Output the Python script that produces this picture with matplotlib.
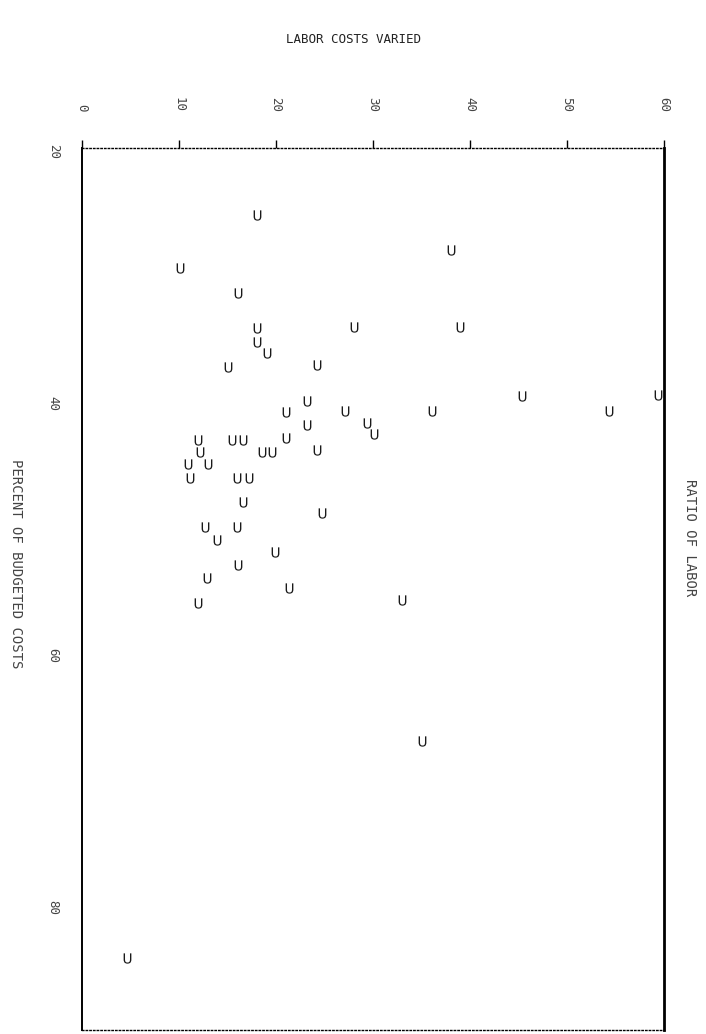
import matplotlib.pyplot as plt

ratio = [18.1, 38.1, 10.1, 16.1, 18.1, 28.1, 39.0, 18.1, 19.1, 15.1,
         24.2, 23.2, 21.1, 27.1, 36.1, 23.2, 29.4, 30.1, 12.0, 15.5,
         16.6, 21.1, 18.6, 19.6, 24.2, 12.2, 10.9, 13.0, 11.1, 16.0,
         17.2, 16.6, 24.8, 12.7, 16.0, 13.9, 19.9, 16.1, 12.9, 21.4,
         12.0, 33.0, 45.4, 54.4, 59.4, 35.1, 4.7]
percent = [25.0, 27.8, 29.2, 31.2, 34.0, 33.9, 33.9, 35.1, 36.0, 37.1,
           36.9, 39.8, 40.7, 40.6, 40.6, 41.7, 41.5, 42.4, 42.9, 42.9,
           42.9, 42.7, 43.8, 43.8, 43.7, 43.8, 44.8, 44.8, 45.9, 45.9,
           45.9, 47.8, 48.7, 49.8, 49.8, 50.8, 51.8, 52.8, 53.8, 54.6,
           55.8, 55.6, 39.4, 40.6, 39.3, 66.8, 84.0]

ratio_ticks = [0, 10, 20, 30, 40, 50, 60]
percent_ticks = [20, 40, 60, 80]

plt.rcParams['font.family'] = 'DejaVu Sans Mono'

fig = plt.figure(figsize=(7.06, 10.34), dpi=100)
ax = fig.add_axes([0.116, 0.004, 0.824, 0.853])

# printer glyph as the point mark
ax.scatter(ratio, percent, marker=r'$\mathrm{U}$', s=55, color='#1a1a1a',
           linewidths=0)

ax.set_xlim(0, 60)
ax.set_ylim(89.7, 19.7)

# ticks on top, labels turned like the printout
ax.xaxis.tick_top()
ax.set_xticks(ratio_ticks)
ax.set_xticklabels([str(t) for t in ratio_ticks], rotation=-90, fontsize=9,
                   color='#444444')
ax.tick_params(axis='x', length=6, width=1, pad=20)
ax.set_yticks(percent_ticks)
ax.set_yticklabels([str(t) for t in percent_ticks], rotation=-90, fontsize=9,
                   color='#444444', va='center')
ax.tick_params(axis='y', length=0, pad=16)

ax.spines['left'].set_linewidth(1.4)
ax.spines['right'].set_linewidth(2)
ax.spines['top'].set_linestyle(':')
ax.spines['top'].set_linewidth(1)
ax.spines['bottom'].set_linestyle(':')
ax.spines['bottom'].set_linewidth(1)

fig.text(0.5, 0.962, 'LABOR COSTS VARIED', ha='center', va='center',
         fontsize=9, color='#222222')
fig.text(0.022, 0.455, 'PERCENT OF BUDGETED COSTS', rotation=-90,
         ha='center', va='center', fontsize=10, color='#444444')
fig.text(0.977, 0.48, 'RATIO OF LABOR', rotation=-90,
         ha='center', va='center', fontsize=10, color='#444444')

fig.savefig('out.png', dpi=100)
